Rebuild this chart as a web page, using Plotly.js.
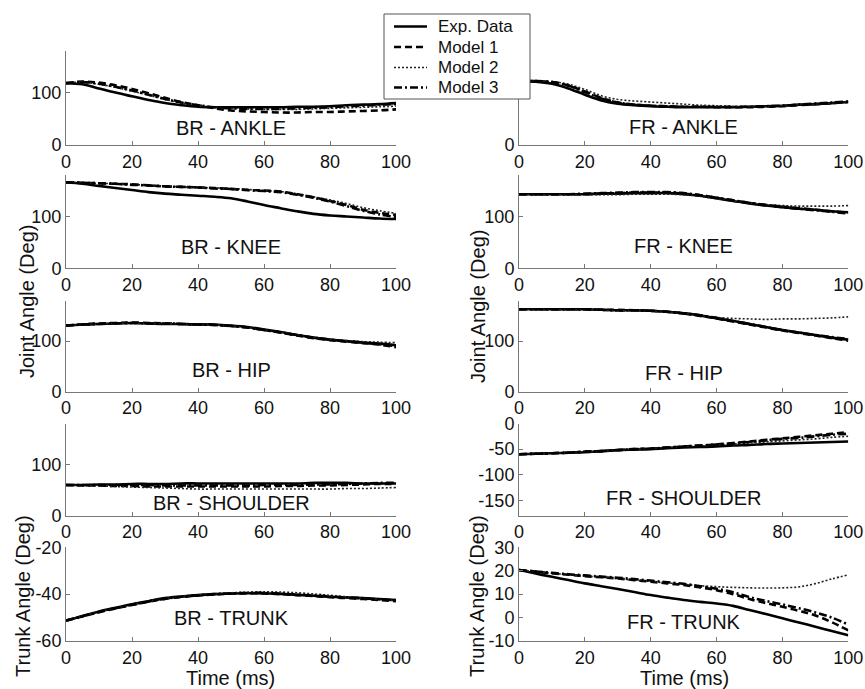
<!DOCTYPE html>
<html>
<head>
<meta charset="utf-8">
<script src="https://cdn.plot.ly/plotly-3.0.1.min.js"></script>
<style>html,body{margin:0;padding:0;background:#fff;}#chart{width:865px;height:689px;}</style>
</head>
<body>
<div id="chart"></div>
<script>
// Time samples (ms)
const timeMs = [0,5,10,15,20,25,30,35,40,45,50,55,60,65,70,75,80,85,90,95,100];
const seriesNames = ["Exp. Data","Model 1","Model 2","Model 3"];

// BR - ANKLE
const brAnkleExp = [118,116,108,100,93,86,80,76,73,72,72,72,72,72,73,73,74,76,77,78,80];
const brAnkleM1  = [118,121,119,114,107,99,90,82,76,70,66,64,63,62,62,63,63,64,65,66,68];
const brAnkleM2  = [118,120,116,110,103,95,87,80,75,72,70,69,68,68,68,69,70,71,72,73,74];
const brAnkleM3  = [118,120,117,111,104,96,88,81,76,72,70,69,69,69,70,71,72,74,75,77,78];
// FR - ANKLE
const frAnkleExp = [122,121,117,108,96,85,79,76,74,73,72,72,72,72,73,74,75,77,78,80,82];
const frAnkleM1  = [122,122,120,114,102,90,81,77,75,74,73,73,72,72,72,73,74,76,78,80,82];
const frAnkleM2  = [122,122,121,116,106,94,87,84,82,80,78,76,75,74,74,74,75,77,78,80,83];
const frAnkleM3  = [122,122,120,113,101,89,81,77,75,74,73,73,73,73,73,74,75,77,79,81,83];
// BR - KNEE
const brKneeExp = [166,163,159,155,151,147,144,142,140,138,135,129,122,116,110,105,102,100,98,96,95];
const brKneeM1  = [166,165,164,163,162,160,158,157,156,155,153,151,150,148,143,137,130,122,113,107,103];
const brKneeM2  = [166,165,164,163,162,160,159,157,156,155,154,152,150,148,144,138,132,125,117,111,106];
const brKneeM3  = [166,165,164,163,161,160,158,157,156,154,153,151,149,147,142,136,129,120,111,104,99];
// FR - KNEE
const frKneeExp = [143,143,143,143,143,144,144,145,145,145,143,140,135,130,125,121,118,115,113,110,108];
const frKneeM1  = [143,143,143,143,143,144,145,146,146,146,144,141,136,131,126,122,119,116,113,110,107];
const frKneeM2  = [143,142,142,142,142,142,142,143,143,143,142,139,134,130,126,123,121,120,120,120,121];
const frKneeM3  = [143,143,143,143,144,145,146,147,147,147,145,141,136,131,126,122,118,115,112,109,106];
// BR - HIP
const brHipExp = [131,133,134,135,136,135,134,134,133,133,131,128,123,118,112,107,103,100,97,95,92];
const brHipM1  = [131,133,135,136,137,136,135,134,133,132,130,127,122,117,111,106,102,99,96,93,88];
const brHipM2  = [131,132,134,135,135,135,134,133,132,132,130,127,123,118,113,108,104,101,99,98,97];
const brHipM3  = [131,133,134,135,136,135,135,134,133,132,130,127,122,117,112,107,103,100,97,94,90];
// FR - HIP
const frHipExp = [163,163,163,163,163,162,161,161,160,158,155,151,145,140,134,128,122,117,112,107,103];
const frHipM1  = [163,163,163,163,163,162,162,161,160,158,155,150,145,139,133,127,121,116,111,106,101];
const frHipM2  = [163,163,162,162,162,161,160,160,159,157,155,151,147,145,144,143,144,144,145,146,148];
const frHipM3  = [163,163,163,163,163,162,161,161,160,158,155,151,146,140,134,128,122,117,112,108,104];
// BR - SHOULDER
const brShoulderExp = [60,60,61,61,62,62,62,63,63,63,63,63,63,63,63,64,64,64,63,63,63];
const brShoulderM1  = [60,59,59,58,58,57,57,57,57,57,57,57,57,58,58,59,59,60,61,62,62];
const brShoulderM2  = [60,59,58,57,56,55,54,53,52,52,52,52,52,52,52,52,52,53,53,54,55];
const brShoulderM3  = [60,60,60,60,60,60,59,59,59,59,59,59,60,60,60,61,61,62,63,64,64];
// FR - SHOULDER
const frShoulderExp = [-60,-59,-58,-57,-56,-54,-52,-51,-50,-48,-47,-46,-45,-43,-42,-40,-39,-38,-37,-36,-35];
const frShoulderM1  = [-60,-59,-58,-57,-55,-54,-52,-50,-49,-47,-45,-43,-41,-38,-35,-32,-29,-26,-23,-20,-17];
const frShoulderM2  = [-60,-59,-58,-57,-56,-54,-52,-51,-49,-47,-45,-44,-42,-40,-38,-36,-34,-32,-30,-27,-25];
const frShoulderM3  = [-60,-59,-58,-57,-55,-54,-52,-50,-49,-47,-45,-43,-41,-39,-36,-33,-30,-28,-25,-22,-20];
// BR - TRUNK
const brTrunkExp = [-51.3,-49.3,-47.4,-45.8,-44.3,-43,-41.7,-41,-40.4,-40,-39.7,-39.6,-39.6,-39.9,-40.3,-40.7,-41.1,-41.4,-41.7,-42.1,-42.5];
const brTrunkM1  = [-51.3,-49.5,-47.7,-46.1,-44.6,-43.2,-42,-41.2,-40.6,-40.1,-39.8,-39.6,-39.7,-40,-40.4,-40.8,-41.3,-41.7,-42.1,-42.5,-43];
const brTrunkM2  = [-51.3,-49.4,-47.5,-45.9,-44.4,-43,-41.8,-41,-40.3,-39.8,-39.4,-39.1,-39,-39.1,-39.4,-39.9,-40.5,-41.1,-41.7,-42.3,-42.8];
const brTrunkM3  = [-51.3,-49.4,-47.6,-46,-44.5,-43.1,-41.9,-41.1,-40.5,-40,-39.7,-39.5,-39.5,-39.8,-40.2,-40.6,-41,-41.4,-41.8,-42.2,-42.6];
// FR - TRUNK
const frTrunkExp = [20.3,18.8,17.4,16,14.6,13.4,12.2,10.9,9.6,8.5,7.5,6.7,6,5,3.2,1.5,-0.3,-2.1,-3.9,-5.7,-7.5];
const frTrunkM1  = [20.3,19.6,18.9,18.3,17.7,17.2,16.7,16,15.3,14.6,13.9,12.9,11.7,10,7.9,6.2,4.6,2.9,0.9,-2,-5.5];
const frTrunkM2  = [20.3,19.6,18.9,18.3,17.7,17.2,16.6,16,15.4,14.8,14.2,13.6,13.2,12.9,12.7,12.6,12.7,13.1,14.5,16.5,18.2];
const frTrunkM3  = [20.3,19.7,19.1,18.5,18,17.5,17,16.4,15.8,15.1,14.4,13.4,12.3,10.8,8.7,7.1,5.6,4,2.2,0,-3];

// Tick values and labels
const xTicks = [0,20,40,60,80,100];
const xTickText = ["0","20","40","60","80","100"];
const jointTicks = [0,100];
const jointTickText = ["0","100"];
const frAnkleTickText = ["0",""];   // the "100" label is hidden behind the legend in the original
const frShoulderTicks = [-150,-100,-50,0];
const frShoulderTickText = ["-150","-100","-50","0"];
const brTrunkTicks = [-60,-40,-20];
const brTrunkTickText = ["-60","-40","-20"];
const frTrunkTicks = [-10,0,10,20,30];
const frTrunkTickText = ["-10","0","10","20","30"];

const panels = [
  {label:"BR - ANKLE", data:[brAnkleExp,brAnkleM1,brAnkleM2,brAnkleM3], yr:[0,180], yt:jointTicks, ytt:jointTickText},
  {label:"FR - ANKLE", data:[frAnkleExp,frAnkleM1,frAnkleM2,frAnkleM3], yr:[0,180], yt:jointTicks, ytt:frAnkleTickText},
  {label:"BR - KNEE", data:[brKneeExp,brKneeM1,brKneeM2,brKneeM3], yr:[0,180], yt:jointTicks, ytt:jointTickText},
  {label:"FR - KNEE", data:[frKneeExp,frKneeM1,frKneeM2,frKneeM3], yr:[0,180], yt:jointTicks, ytt:jointTickText},
  {label:"BR - HIP", data:[brHipExp,brHipM1,brHipM2,brHipM3], yr:[0,180], yt:jointTicks, ytt:jointTickText},
  {label:"FR - HIP", data:[frHipExp,frHipM1,frHipM2,frHipM3], yr:[0,180], yt:jointTicks, ytt:jointTickText},
  {label:"BR - SHOULDER", data:[brShoulderExp,brShoulderM1,brShoulderM2,brShoulderM3], yr:[0,180], yt:jointTicks, ytt:jointTickText},
  {label:"FR - SHOULDER", data:[frShoulderExp,frShoulderM1,frShoulderM2,frShoulderM3], yr:[-180,0], yt:frShoulderTicks, ytt:frShoulderTickText},
  {label:"BR - TRUNK", data:[brTrunkExp,brTrunkM1,brTrunkM2,brTrunkM3], yr:[-60,-20], yt:brTrunkTicks, ytt:brTrunkTickText},
  {label:"FR - TRUNK", data:[frTrunkExp,frTrunkM1,frTrunkM2,frTrunkM3], yr:[-10,30], yt:frTrunkTicks, ytt:frTrunkTickText}
];

const W = 865, H = 689;
const colX = [[66,396],[519,848.3]];
const rowY = [[50.7,145],[175,268.3],[300.7,391.7],[423.5,515.7],[547.3,641]];
const labelYLeft = [128,246.5,370,503,618];
const labelYRight = [127,246,373,498,622];

const styles = [
  {color:"#000", width:2.6, dash:"solid"},
  {color:"#000", width:2.6, dash:"7px,4px"},
  {color:"#222", width:1.6, dash:"2px,2px"},
  {color:"#000", width:2.6, dash:"8px,3px,2px,3px"}
];

const FONT = "Liberation Sans, Arial, Helvetica, sans-serif";
const traces = [];
const layout = {
  width: W, height: H,
  margin: {l:0,r:0,t:0,b:0},
  paper_bgcolor: "#fff", plot_bgcolor: "rgba(0,0,0,0)",
  font: {family: FONT, size: 18, color: "#111"},
  showlegend: false,
  annotations: [],
  shapes: []
};

panels.forEach((p, i) => {
  const col = i % 2, row = Math.floor(i/2);
  const xa = "x" + (i+1), ya = "y" + (i+1);
  const xk = "xaxis" + (i===0 ? "" : (i+1));
  const yk = "yaxis" + (i===0 ? "" : (i+1));
  p.data.forEach((vals, s) => {
    traces.push({
      x: timeMs, y: vals, type: "scatter", mode: "lines",
      name: seriesNames[s], xaxis: xa, yaxis: ya,
      line: {color: styles[s].color, width: styles[s].width, dash: styles[s].dash, shape:"spline", smoothing:1},
      hoverinfo: "skip"
    });
  });
  const axCommon = {showline:true, linecolor:"#777", linewidth:1, ticks:"inside", ticklen:4,
    tickcolor:"#777", showgrid:false, zeroline:false, fixedrange:true, tickmode:"array",
    tickfont:{family:FONT, size:18, color:"#111"}};
  layout[xk] = Object.assign({}, axCommon, {
    domain:[colX[col][0]/W, colX[col][1]/W], range:[0,100],
    tickvals:xTicks, ticktext:xTickText, anchor: ya
  });
  layout[yk] = Object.assign({}, axCommon, {
    domain:[1-rowY[row][1]/H, 1-rowY[row][0]/H], range:p.yr,
    tickvals:p.yt, ticktext:p.ytt, anchor: xa
  });
  const ly = col === 0 ? labelYLeft[row] : labelYRight[row];
  layout.annotations.push({
    text: p.label, xref: xa, yref: "paper", x: 50, y: 1-ly/H,
    xanchor:"center", yanchor:"middle", showarrow:false,
    font:{family:FONT, size:20, color:"#111"}
  });
});

const titleFont = {family:FONT, size:20, color:"#111"};
[
  {text:"Joint Angle (Deg)", x:27, y:302, a:-90},
  {text:"Joint Angle (Deg)", x:478, y:306, a:-90},
  {text:"Trunk Angle (Deg)", x:23, y:596, a:-90},
  {text:"Trunk Angle (Deg)", x:477, y:596, a:-90},
  {text:"Time (ms)", x:231, y:678, a:0},
  {text:"Time (ms)", x:684, y:678, a:0}
].forEach(t => {
  layout.annotations.push({text:t.text, xref:"paper", yref:"paper", x:t.x/W, y:1-t.y/H,
    xanchor:"center", yanchor:"middle", textangle:t.a, showarrow:false, font:titleFont});
});

// Legend box (drawn as a MATLAB-style legend)
const legendBox = {x0:384, x1:530, y0:14, y1:99};
const legendRowY = [26.5, 47, 67.5, 87.5];
layout.shapes.push({type:"rect", xref:"paper", yref:"paper",
  x0:legendBox.x0/W, x1:legendBox.x1/W, y0:1-legendBox.y1/H, y1:1-legendBox.y0/H,
  fillcolor:"#fff", line:{color:"#555", width:1}, layer:"above"});
seriesNames.forEach((nm, s) => {
  const yy = 1 - legendRowY[s]/H;
  layout.shapes.push({type:"line", xref:"paper", yref:"paper", x0:394/W, x1:427/W, y0:yy, y1:yy,
    line:{color:styles[s].color, width:styles[s].width, dash:styles[s].dash}, layer:"above"});
  layout.annotations.push({text:nm, xref:"paper", yref:"paper", x:436/W, y:yy,
    xanchor:"left", yanchor:"middle", showarrow:false, font:{family:FONT, size:17, color:"#111"}});
});

Plotly.newPlot("chart", traces, layout, {displayModeBar:false, staticPlot:true});
</script>
</body>
</html>
